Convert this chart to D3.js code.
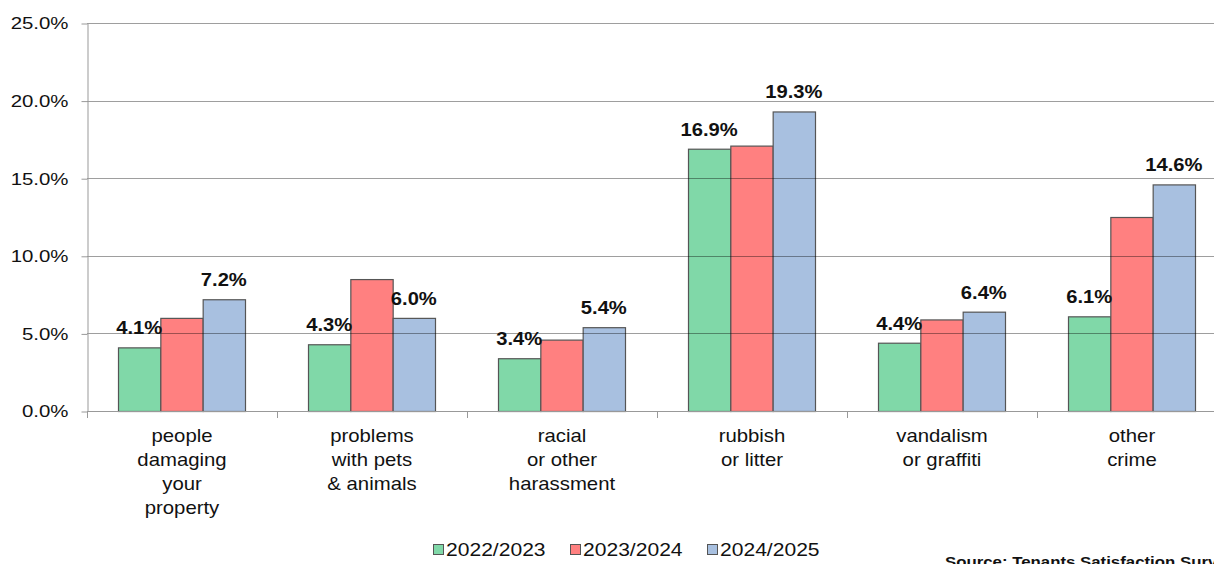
<!DOCTYPE html>
<html>
<head>
<meta charset="utf-8">
<script src="https://cdn.jsdelivr.net/npm/d3@7"></script>
<style>
  body { margin: 0; background: #fff; }
  svg { display: block; font-family: Arial, "Liberation Sans", sans-serif; }
</style>
</head>
<body>
<script>
// chart data
const categories = ['people damaging your property', 'problems with pets & animals',
    'racial or other harassment', 'rubbish or litter', 'vandalism or graffiti', 'other crime'];
const categoryLines = [
    ['people', 'damaging', 'your', 'property'],
    ['problems', 'with pets', '& animals'],
    ['racial', 'or other', 'harassment'],
    ['rubbish', 'or litter'],
    ['vandalism', 'or graffiti'],
    ['other', 'crime']
];
const seriesNames = ['2022/2023', '2023/2024', '2024/2025'];
const values2022 = [4.1, 4.3, 3.4, 16.9, 4.4, 6.1];
const values2023 = [6.0, 8.5, 4.6, 17.1, 5.9, 12.5];
const values2024 = [7.2, 6.0, 5.4, 19.3, 6.4, 14.6];
const labelled = [true, false, true]; // which series carry value labels
const yTicks = [0, 5, 10, 15, 20, 25];
const colors = ['#80d8a8', '#ff8080', '#a8c0e0'];
const sourceText = 'Source: Tenants Satisfaction Survey';

const W = 1214, H = 564;
const plot = { left: 87, top: 23, bottom: 411, band: 190 };

const svg = d3.select('body').append('svg').attr('width', W).attr('height', H);

//build rows
const series = [values2022, values2023, values2024];
const rows = categories.map((c, i) => ({ cat: c, lines: categoryLines[i], vals: series.map((s) => s[i]) }));

const x0 = d3.scaleBand().domain(categories)
    .range([plot.left, plot.left + plot.band * categories.length]).padding(0);
const x1 = d3.scaleBand().domain(d3.range(seriesNames.length))
    .range([31, x0.bandwidth() - 32]).padding(0);
const y = d3.scaleLinear().domain([0, 25]).range([plot.bottom, plot.top]);

// stretch text horizontally (source picture is wider than tall)
function stretch(sel, sx) {
    sel.each(function() {
        const len = this.getComputedTextLength();
        d3.select(this).attr('textLength', len * sx).attr('lengthAdjust', 'spacingAndGlyphs');
    });
}

//bars
const groups = svg.append('g').selectAll('g').data(rows).enter().append('g')
    .attr('transform', (d) => `translate(${x0(d.cat)},0)`);
groups.selectAll('rect').data((d) => d.vals).enter().append('rect')
    .attr('x', (v, i) => x1(i) + 0.5)
    .attr('y', (v) => y(v) + 0.5)
    .attr('width', x1.bandwidth())
    .attr('height', (v) => y(0) - y(v))
    .attr('fill', (v, i) => colors[i])
    .attr('stroke', '#555')
    .attr('stroke-width', 1.2);

//gridlines drawn over bars
svg.append('g').selectAll('line').data(yTicks.filter((t) => t > 0)).enter().append('line')
    .attr('x1', plot.left).attr('x2', W)
    .attr('y1', (t) => Math.round(y(t)) + 0.5).attr('y2', (t) => Math.round(y(t)) + 0.5)
    .attr('stroke', '#000').attr('stroke-opacity', 0.38);

//y axis
const yAxis = d3.axisLeft(y).tickValues(yTicks).tickSize(6).tickSizeOuter(0).tickPadding(13)
    .tickFormat((t) => t.toFixed(1) + '%');
const yg = svg.append('g').attr('transform', `translate(${plot.left + 0.5},0.5)`).call(yAxis);
yg.select('.domain').attr('stroke', '#999');
yg.selectAll('.tick line').attr('stroke', '#999');
yg.selectAll('.tick text').attr('font-size', 17).attr('fill', '#111').attr('font-family', null)
    .call(stretch, 1.2);

//x baseline and category separators
svg.append('line').attr('x1', plot.left).attr('x2', W)
    .attr('y1', plot.bottom + 0.5).attr('y2', plot.bottom + 0.5).attr('stroke', '#999');
svg.append('g').selectAll('line').data(categories).enter().append('line')
    .attr('x1', (c) => x0(c) + 0.5).attr('x2', (c) => x0(c) + 0.5)
    .attr('y1', plot.bottom).attr('y2', plot.bottom + 7).attr('stroke', '#999');

//category labels
const catLabels = svg.append('g').selectAll('g').data(rows).enter().append('g');
catLabels.selectAll('text').data((d) => d.lines.map((l) => ({ l, cat: d.cat }))).enter().append('text')
    .attr('x', (d) => x0(d.cat) + x0.bandwidth() / 2)
    .attr('y', (d, i) => 442 + i * 24)
    .attr('text-anchor', 'middle')
    .attr('font-size', 19)
    .attr('fill', '#111')
    .text((d) => d.l)
    .call(stretch, 1.07);

//value labels
const valueLabels = [];
rows.forEach((r) => r.vals.forEach((v, i) => {
    if (labelled[i]) valueLabels.push({ cat: r.cat, i, v });
}));
svg.append('g').selectAll('text').data(valueLabels).enter().append('text')
    .attr('x', (d) => x0(d.cat) + x1(d.i) + x1.bandwidth() / 2)
    .attr('y', (d) => y(d.v) - 13)
    .attr('text-anchor', 'middle')
    .attr('font-size', 18)
    .attr('font-weight', 'bold')
    .attr('fill', '#111')
    .text((d) => d.v.toFixed(1) + '%')
    .call(stretch, 1.12);

//legend
const legend = svg.append('g').selectAll('g').data(seriesNames).enter().append('g')
    .attr('transform', (d, i) => `translate(${433 + i * 137},544)`);
legend.append('rect').attr('x', 0.5).attr('y', 0.5).attr('width', 10).attr('height', 10)
    .attr('fill', (d, i) => colors[i]).attr('stroke', '#555');
legend.append('text').attr('x', 13).attr('y', 11.5)
    .attr('font-size', 18).attr('fill', '#111').text((d) => d)
    .call(stretch, 1.17);

//source
svg.append('text').attr('x', 945).attr('y', 567)
    .attr('font-size', 14).attr('font-weight', 'bold').attr('fill', '#111')
    .text(sourceText)
    .call(stretch, 1.2);
</script>
</body>
</html>
